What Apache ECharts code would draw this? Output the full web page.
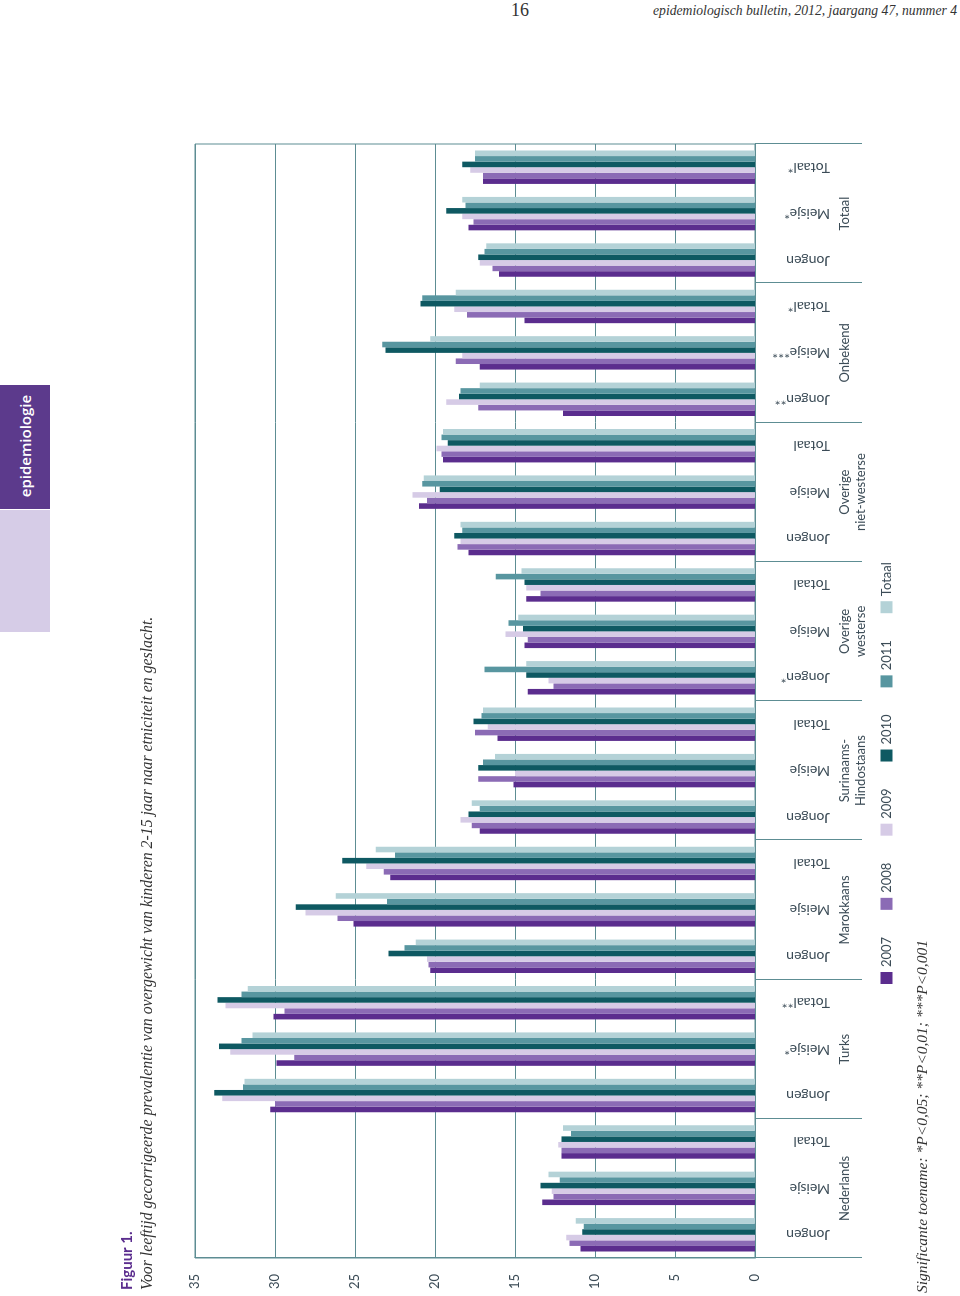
<!DOCTYPE html>
<html>
<head>
<meta charset="utf-8">
<script src="https://cdn.jsdelivr.net/npm/echarts@6/dist/echarts.min.js"></script>
<style>
html,body{margin:0;padding:0;background:#fff;width:960px;height:1296px;overflow:hidden;}
#chart{position:absolute;left:0;top:0;width:1296px;height:860px;transform-origin:0 0;transform:translate(100px,1296px) rotate(-90deg);}
#pageno{position:absolute;left:505px;top:0px;width:30px;text-align:center;font-family:"Liberation Serif",serif;font-size:18px;color:#333;}
#journal{position:absolute;right:3px;top:2px;font-family:"Liberation Serif",serif;font-style:italic;font-size:15px;color:#333;transform:scaleX(0.91);transform-origin:100% 50%;white-space:nowrap;}
#side1{position:absolute;left:0;top:385px;width:50px;height:124px;background:#5c3a8c;}
#side2{position:absolute;left:0;top:510px;width:50px;height:122px;background:#d6cce7;}
#sidetxt{position:absolute;left:25px;top:446px;transform:translate(-50%,-50%) rotate(-90deg);color:#fff;font-family:"Open Sans",sans-serif;font-weight:600;font-size:15px;white-space:nowrap;}
</style>
</head>
<body>
<div id="pageno">16</div>
<div id="journal">epidemiologisch bulletin, 2012, jaargang 47, nummer 4</div>
<div id="side1"></div><div id="side2"></div>
<div id="sidetxt">epidemiologie</div>
<div id="chart"></div>
<script>
const groups = ['Nederlands','Turks','Marokkaans','Surinaams-\nHindostaans','Overige\nwesterse','Overige\nniet-westerse','Onbekend','Totaal'];
const categoryLabels = [
  'Jongen','Meisje','Totaal',
  'Jongen','Meisje*','Totaal**',
  'Jongen','Meisje','Totaal',
  'Jongen','Meisje','Totaal',
  'Jongen*','Meisje','Totaal',
  'Jongen','Meisje','Totaal',
  'Jongen**','Meisje***','Totaal*',
  'Jongen','Meisje*','Totaal*'
];
const seriesNames = ['2007','2008','2009','2010','2011','Totaal'];
const valueTicks = [0,5,10,15,20,25,30,35];

const v2007 = [10.9,13.3,12.1, 30.3,29.9,30.1, 20.3,25.1,22.8, 17.2,15.1,16.1, 14.2,14.4,14.3, 17.9,21.0,19.5, 12.0,17.2,14.4, 16.0,17.9,17.0];
const v2008 = [11.6,12.6,12.1, 30.0,28.8,29.4, 20.4,26.1,23.2, 17.7,17.3,17.5, 12.6,14.2,13.4, 18.6,20.5,19.6, 17.3,18.7,18.0, 16.4,17.6,17.0];
const v2009 = [11.8,12.7,12.3, 33.3,32.8,33.1, 20.5,28.1,24.3, 18.4,15.0,16.7, 12.9,15.6,14.3, 18.4,21.4,19.9, 19.3,18.3,18.8, 17.2,18.3,17.8];
const v2010 = [10.8,13.4,12.1, 33.8,33.5,33.6, 22.9,28.7,25.8, 17.9,17.3,17.6, 14.3,14.5,14.4, 18.8,19.7,19.2, 18.5,23.1,20.9, 17.3,19.3,18.3];
const v2011 = [10.7,12.2,11.5, 32.0,32.1,32.1, 21.9,23.0,22.5, 17.2,17.0,17.1, 16.9,15.4,16.2, 18.3,20.8,19.6, 18.4,23.3,20.8, 16.9,18.1,17.5];
const vTotaal = [11.2,12.9,12.0, 31.9,31.4,31.7, 21.2,26.2,23.7, 17.7,16.25,17.0, 14.3,14.8,14.6, 18.4,20.7,19.5, 17.2,20.3,18.7, 16.8,18.3,17.5];

const seriesValues = [v2007,v2008,v2009,v2010,v2011,vTotaal];
const colors = ['#5b2d8e','#8b6bb5','#d6cbe6','#0e5962','#5896a0','#b4d2d7'];
const lineColor = '#5d8d93';
const textColor = '#3c4c57';
const categories = categoryLabels.map((l,i)=> i + '|' + l);

const chart = echarts.init(document.getElementById('chart'));
chart.setOption({
  animation:false,
  color: colors,
  title:[
    {text:'Figuur 1.', subtext:'Voor leeftijd gecorrigeerde prevalentie van overgewicht van kinderen 2-15 jaar naar etniciteit en geslacht.',
     left:6, top:20, itemGap:5, padding:0,
     textStyle:{fontFamily:'Lato, sans-serif', fontWeight:'bold', fontSize:15, color:'#5b2d8e'},
     subtextStyle:{fontFamily:'Liberation Serif, serif', fontStyle:'italic', fontSize:15.8, color:'#333'}},
    {text:'Significante toename: *P<0,05; **P<0,01; ***P<0,001', left:3, top:815, padding:0,
     textStyle:{fontFamily:'Liberation Serif, serif', fontStyle:'italic', fontWeight:'normal', fontSize:15.5, color:'#333'}}
  ],
  legend:{
    data: seriesNames, left:312, top:780, itemWidth:12, itemHeight:12, itemGap:27, icon:'rect', padding:0,
    textStyle:{fontFamily:'Lato, sans-serif', fontSize:13, color:textColor}
  },
  grid:{left:38, right:144, top:95, bottom:205, show:true, borderColor:lineColor, borderWidth:1, containLabel:false},
  xAxis:[
    {type:'category', data:categories, position:'bottom',
     axisLine:{show:true, lineStyle:{color:lineColor, width:1}},
     axisTick:{show:false},
     axisLabel:{interval:0, rotate:90, align:'left', verticalAlign:'middle', margin:75,
       formatter:v=>v.split('|')[1], fontFamily:'Lato, sans-serif', fontSize:14, color:textColor}},
    {type:'category', data:groups, position:'bottom',
     axisLine:{show:false},
     axisTick:{show:true, interval:0, length:107, lineStyle:{color:lineColor, width:1}},
     axisLabel:{interval:0, margin:82, verticalAlign:'top', lineHeight:16,
       fontFamily:'Lato, sans-serif', fontSize:13, color:textColor}}
  ],
  yAxis:{type:'value', min:valueTicks[0], max:valueTicks[valueTicks.length-1], interval:5,
    axisLine:{show:true, lineStyle:{color:lineColor}},
    axisTick:{show:false},
    splitLine:{show:true, lineStyle:{color:lineColor, width:1}},
    axisLabel:{margin:16, fontFamily:'Lato, sans-serif', fontSize:13, color:textColor}},
  series: seriesNames.map((n,i)=>({
    name:n, type:'bar', xAxisIndex:0, data:seriesValues[i],
    barGap:'0%', barCategoryGap:'28%', itemStyle:{color:colors[i]}
  }))
});
</script>
</body>
</html>
